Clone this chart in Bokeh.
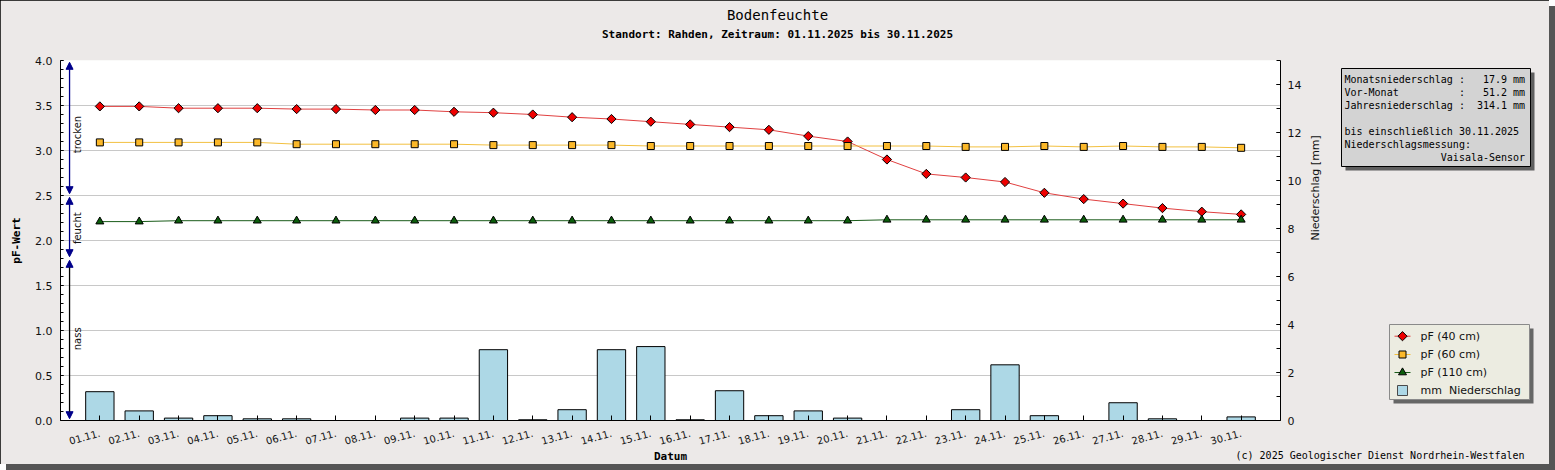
import math
from bokeh.plotting import figure
from bokeh.models import (Range1d, LinearAxis, FixedTicker, SingleIntervalTicker,
                          PrintfTickFormatter, Label, Arrow, NormalHead, ColumnDataSource)
from bokeh.core.properties import value
from bokeh.embed import file_html
from bokeh.resources import INLINE

# ---------------- data ----------------
day_labels = ["01.11.", "02.11.", "03.11.", "04.11.", "05.11.", "06.11.", "07.11.", "08.11.",
              "09.11.", "10.11.", "11.11.", "12.11.", "13.11.", "14.11.", "15.11.", "16.11.",
              "17.11.", "18.11.", "19.11.", "20.11.", "21.11.", "22.11.", "23.11.", "24.11.",
              "25.11.", "26.11.", "27.11.", "28.11.", "29.11.", "30.11."]
days = list(range(1, 31))

pf_40 = [3.49, 3.49, 3.47, 3.47, 3.47, 3.46, 3.46, 3.45, 3.45, 3.43,
         3.42, 3.40, 3.37, 3.35, 3.32, 3.29, 3.26, 3.23, 3.16, 3.10,
         2.90, 2.74, 2.70, 2.65, 2.53, 2.46, 2.41, 2.36, 2.32, 2.29]
pf_60 = [3.09, 3.09, 3.09, 3.09, 3.09, 3.07, 3.07, 3.07, 3.07, 3.07,
         3.06, 3.06, 3.06, 3.06, 3.05, 3.05, 3.05, 3.05, 3.05, 3.05,
         3.05, 3.05, 3.04, 3.04, 3.05, 3.04, 3.05, 3.04, 3.04, 3.03]
pf_110 = [2.21, 2.21, 2.22, 2.22, 2.22, 2.22, 2.22, 2.22, 2.22, 2.22,
          2.22, 2.22, 2.22, 2.22, 2.22, 2.22, 2.22, 2.22, 2.22, 2.22,
          2.23, 2.23, 2.23, 2.23, 2.23, 2.23, 2.23, 2.23, 2.23, 2.23]
rain_mm = [1.2, 0.4, 0.1, 0.2, 0.07, 0.07, 0.0, 0.0, 0.1, 0.1,
           2.95, 0.03, 0.45, 2.95, 3.08, 0.03, 1.24, 0.2, 0.4, 0.1,
           0.0, 0.0, 0.45, 2.32, 0.2, 0.0, 0.74, 0.07, 0.0, 0.15]

series_names = ["pF (40 cm)", "pF (60 cm)", "pF (110 cm)", "mm  Niederschlag"]

class_bounds = [0.0, 1.8, 2.5, 4.0]
class_names = ["nass", "feucht", "trocken"]
class_label_y = [0.78, 1.96, 2.97]

month_precip_mm = 17.9
prev_month_mm = 51.2
year_precip_mm = 314.1
until_date = "30.11.2025"
station = "Rahden"
period = ("01.11.2025", "30.11.2025")

# ---------------- styles ----------------
BG = "#ECE9E8"
MONO = "DejaVu Sans Mono"
SANS = "DejaVu Sans"
ARROW_BLUE = "#00008B"
NB = "\u00a0"
C40, C40L = "#EE0000", "#E04040"
C60, C60L = "#FBB829", "#F2C040"
C110, C110L = "#0B5E0B", "#1A5C1A"
CRAIN = "#ADD8E6"

# ================= main chart =================
p = figure(frame_width=1220, frame_height=360,
           x_range=Range1d(0, 31), y_range=Range1d(0, 4),
           output_backend="svg", toolbar_location=None,
           min_border_left=60, min_border_right=269, min_border_top=60, min_border_bottom=44,
           background_fill_color="white", border_fill_color=BG, outline_line_color=None,
           styles={"outline": "1px solid #000000", "outline-offset": "-1px",
                   "box-shadow": "6px 6px 0 0 #555555"})

p.xgrid.visible = False
p.ygrid.grid_line_color = "#C8C8C8"

xa = p.xaxis[0]
xa.ticker = FixedTicker(ticks=days)
xa.major_label_overrides = {d: lab for d, lab in zip(days, day_labels)}
xa.major_label_orientation = 0.27
xa.major_tick_in = 5
xa.major_tick_out = 0
xa.minor_tick_line_color = None
xa.major_label_text_font = SANS
xa.major_label_text_font_size = "10px"
xa.major_label_text_color = "#111111"
xa.major_label_standoff = 12
xa.axis_line_color = "black"

ya = p.yaxis[0]
ya.ticker = SingleIntervalTicker(interval=0.5, num_minor_ticks=5)
ya.formatter = PrintfTickFormatter(format="%.1f")
ya.major_tick_in = 3
ya.major_tick_out = 0
ya.minor_tick_in = 3
ya.minor_tick_out = 0
ya.major_label_text_font = SANS
ya.major_label_text_font_size = "11px"
ya.major_label_text_color = "#111111"
ya.major_label_standoff = 8
ya.axis_label = "pF-Wert"
ya.axis_label_text_font = MONO
ya.axis_label_text_font_style = "bold"
ya.axis_label_text_font_size = "11px"
ya.axis_label_text_color = "black"
ya.axis_label_standoff = 9
ya.axis_line_color = "black"

p.extra_y_ranges = {"rain": Range1d(0, 15)}
ra = LinearAxis(y_range_name="rain",
                ticker=SingleIntervalTicker(interval=2, num_minor_ticks=2),
                axis_label="Niederschlag [mm]")
ra.major_tick_in = 4
ra.major_tick_out = 0
ra.minor_tick_in = 4
ra.minor_tick_out = 0
ra.major_label_text_font = SANS
ra.major_label_text_font_size = "11px"
ra.major_label_text_color = "#111111"
ra.major_label_standoff = 7
ra.axis_label_text_font = SANS
ra.axis_label_text_font_style = "normal"
ra.axis_label_text_font_size = "11px"
ra.axis_label_text_color = "#111111"
ra.axis_label_standoff = 11
ra.axis_line_color = "black"
try:
    ra.axis_label_orientation = math.pi / 2
except Exception:
    pass
p.add_layout(ra, "right")

src = ColumnDataSource(dict(day=days, pf40=pf_40, pf60=pf_60, pf110=pf_110, rain=rain_mm))

p.vbar(x="day", top="rain", width=0.72, y_range_name="rain", source=src,
       fill_color=CRAIN, line_color="black", line_width=1)
p.line("day", "pf40", source=src, line_color=C40L, line_width=1)
p.scatter("day", "pf40", source=src, marker="square", angle=math.pi / 4, size=6.5,
          fill_color=C40, line_color="black", line_width=1)
p.line("day", "pf60", source=src, line_color=C60L, line_width=1)
p.scatter("day", "pf60", source=src, marker="square", size=7,
          fill_color=C60, line_color="black", line_width=1)
p.line("day", "pf110", source=src, line_color=C110L, line_width=1)
p.scatter("day", "pf110", source=src, marker="triangle", size=8,
          fill_color=C110, line_color="black", line_width=1)

for lo, hi, name in zip(class_bounds[:-1], class_bounds[1:], class_names):
    col = "black" if name == "nass" else ARROW_BLUE
    p.add_layout(Arrow(x_start=0.23, x_end=0.23, y_start=lo + 0.02, y_end=hi - 0.02,
                       line_color=col, line_width=1.3,
                       start=NormalHead(size=7, fill_color=ARROW_BLUE, line_color=ARROW_BLUE, line_width=1),
                       end=NormalHead(size=7, fill_color=ARROW_BLUE, line_color=ARROW_BLUE, line_width=1)))
p.text(x=[0.43] * len(class_names), y=class_label_y, text=class_names, angle=math.pi / 2,
       text_align="left", text_baseline="middle", text_font=value(SANS),
       text_font_size="10px", text_color="#111111")


def lab(x, y, text, align="left", size="10px", style="normal"):
    p.add_layout(Label(x=x, y=y, x_units="canvas", y_units="canvas", text=text,
                       text_align=align, text_baseline="middle", text_font=MONO,
                       text_font_size=size, text_font_style=style, text_color="black"), "above")


lab(777, 14.5, "Bodenfeuchte", align="center", size="14px")
lab(777, 33.5, f"Standort: {station}, Zeitraum: {period[0]} bis {period[1]}",
    align="center", size="11px", style="bold")
lab(670, 456, "Datum", align="center", size="11px", style="bold")
lab(1524, 455, "(c) 2025 Geologischer Dienst Nordrhein-Westfalen", align="right", size="10px")

# ================= side panel (info box + legend), placed over the right margin =========
SW, SH = 210, 350
q = figure(width=SW, height=SH, x_range=Range1d(0, SW), y_range=Range1d(SH, 0),
           x_axis_type=None, y_axis_type=None, min_border=0, outline_line_color=None,
           output_backend="svg", toolbar_location=None,
           background_fill_color=BG, border_fill_color=BG,
           styles={"position": "absolute", "left": "1330px", "top": "60px"})

# info box: shadow, box, text
q.quad(left=[15], right=[204], top=[12], bottom=[110], fill_color="#5F5F5F", line_color=None)
q.quad(left=[11], right=[200], top=[8], bottom=[106], fill_color="#D3D3D3",
       line_color="black", line_width=1)
info_text = [
    f"{'Monatsniederschlag':<19}:{month_precip_mm:>7.1f} mm",
    f"{'Vor-Monat':<19}:{prev_month_mm:>7.1f} mm",
    f"{'Jahresniederschlag':<19}:{year_precip_mm:>7.1f} mm",
    f"bis einschließlich {until_date}",
    "Niederschlagsmessung:",
    f"{'Vaisala-Sensor':>30}",
]
info_y = [19.3, 32.3, 45.0, 71.0, 84.0, 96.7]
q.text(x=[14] * len(info_text), y=info_y, text=[t.replace(" ", NB) for t in info_text],
       text_align="left", text_baseline="middle", text_font=value(MONO),
       text_font_size="10px", text_color="black")

# legend: shadow, box, entries
q.quad(left=[63], right=[203], top=[268], bottom=[343], fill_color="#666666", line_color=None)
q.quad(left=[59], right=[199], top=[264], bottom=[339], fill_color="#ECECE1",
       line_color="#8A8A8A", line_width=1)
leg_y = [275.7, 294.0, 312.0, 330.0]
leg_line_colors = [C40L, C60L, C110L]
q.segment(x0=[64] * 3, x1=[80] * 3, y0=leg_y[:3], y1=leg_y[:3], line_color=leg_line_colors,
          line_width=1)
q.scatter(x=[72], y=[leg_y[0]], marker="square", angle=math.pi / 4, size=6.5,
          fill_color=C40, line_color="black", line_width=1)
q.scatter(x=[72], y=[leg_y[1]], marker="square", size=7, fill_color=C60,
          line_color="black", line_width=1)
q.scatter(x=[72], y=[leg_y[2]], marker="triangle", size=8, fill_color=C110,
          line_color="black", line_width=1)
q.scatter(x=[72], y=[leg_y[3]], marker="square", size=10, fill_color=CRAIN,
          line_color="#4A4A4A", line_width=1)
q.text(x=[90] * 4, y=leg_y, text=[s.replace("  ", NB + " ") for s in series_names],
       text_align="left", text_baseline="middle", text_font=value(SANS),
       text_font_size="11px", text_color="#111111")

open("out.html", "w").write(file_html([p, q], INLINE))
